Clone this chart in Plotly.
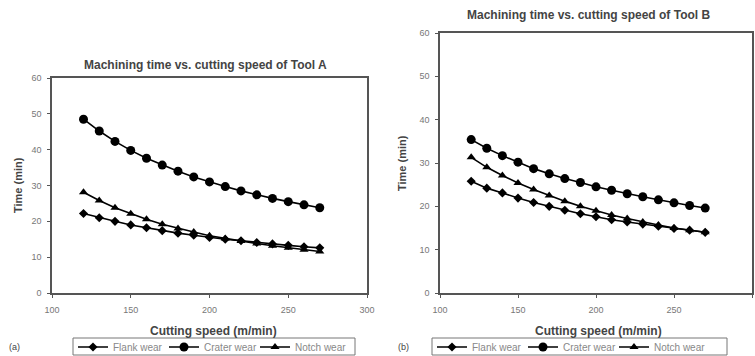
import plotly.graph_objects as go

speed = [120, 130, 140, 150, 160, 170, 180, 190, 200, 210, 220, 230, 240, 250, 260, 270]

a_flank = [22.2, 21.0, 20.0, 19.0, 18.2, 17.4, 16.7, 16.1, 15.5, 15.0, 14.6, 14.1, 13.7, 13.3, 12.9, 12.6]
a_crater = [48.5, 45.2, 42.3, 39.8, 37.6, 35.7, 34.0, 32.4, 31.0, 29.7, 28.5, 27.4, 26.4, 25.5, 24.6, 23.8]
a_notch = [28.1, 25.8, 23.8, 22.1, 20.6, 19.2, 18.0, 17.0, 16.0, 15.2, 14.5, 13.8, 13.2, 12.6, 12.1, 11.6]

b_flank = [25.8, 24.2, 23.1, 21.9, 20.9, 20.0, 19.1, 18.3, 17.6, 16.9, 16.4, 15.9, 15.4, 14.9, 14.5, 14.0]
b_crater = [35.4, 33.4, 31.7, 30.2, 28.7, 27.5, 26.4, 25.5, 24.5, 23.7, 22.9, 22.2, 21.5, 20.8, 20.2, 19.6]
b_notch = [31.3, 29.0, 27.1, 25.4, 23.9, 22.5, 21.2, 20.0, 19.0, 18.0, 17.2, 16.4, 15.7, 15.0, 14.5, 14.0]

x_ticks = [100, 150, 200, 250, 300]
names = ["Flank wear", "Crater wear", "Notch wear"]
symbols = ["diamond", "circle", "triangle-up"]
sizes = [7, 9, 8]

W, H = 755, 356
FONT = "Liberation Sans, Arial, sans-serif"

fig = go.Figure()

for i, (ys, nm) in enumerate(zip([a_flank, a_crater, a_notch], names)):
    fig.add_trace(go.Scatter(
        x=speed, y=ys, name=nm, mode="lines+markers",
        line=dict(color="black", width=1.6),
        marker=dict(symbol=symbols[i], size=sizes[i], color="black"),
        xaxis="x", yaxis="y", legend="legend"))

for i, (ys, nm) in enumerate(zip([b_flank, b_crater, b_notch], names)):
    fig.add_trace(go.Scatter(
        x=speed, y=ys, name=nm, mode="lines+markers",
        line=dict(color="black", width=1.6),
        marker=dict(symbol=symbols[i], size=sizes[i], color="black"),
        xaxis="x2", yaxis="y2", legend="legend2"))

def px_x(p):
    return p / W

def px_y(p):
    return 1 - p / H

axis_common = dict(
    showgrid=False, zeroline=False, showline=True, linecolor="#555", linewidth=1.5,
    mirror=True, ticks="outside", ticklen=3, tickcolor="#555", automargin=False,
    ticklabelstandoff=4,
    tickfont=dict(family=FONT, size=9, color="#777"),
)

leg_common = dict(orientation="h", xanchor="left", yanchor="middle",
                  xref="container", yref="container",
                  borderwidth=0, bgcolor="rgba(0,0,0,0)",
                  font=dict(family=FONT, size=10, color="#888"),
                  itemwidth=30, tracegroupgap=0,
                  entrywidth=46, entrywidthmode="pixels")

fig.update_layout(
    width=W, height=H,
    margin=dict(l=0, r=0, t=0, b=0, autoexpand=False),
    paper_bgcolor="white", plot_bgcolor="white",
    showlegend=True,
    xaxis=dict(domain=[px_x(52), px_x(367)], range=[100, 300], tickvals=x_ticks,
               anchor="y", **axis_common),
    yaxis=dict(domain=[px_y(293), px_y(78)], range=[0, 60], dtick=10, anchor="x", **axis_common),
    xaxis2=dict(domain=[px_x(440), px_x(752)], range=[100, 300], tickvals=x_ticks,
                anchor="y2", **axis_common),
    yaxis2=dict(domain=[px_y(293), px_y(33)], range=[0, 60], dtick=10, anchor="x2", **axis_common),
    legend=dict(x=px_x(73), y=px_y(347), **leg_common),
    legend2=dict(x=px_x(432), y=px_y(347), **leg_common),
)

# legend frames
for x0, x1 in [(73, 355), (432, 727)]:
    fig.add_shape(type="rect", xref="paper", yref="paper",
                  x0=px_x(x0), x1=px_x(x1), y0=px_y(355), y1=px_y(338),
                  line=dict(color="#777", width=1), fillcolor="rgba(0,0,0,0)", layer="below")

ann = [
    dict(text="<b>Machining time vs. cutting speed of Tool A</b>", x=px_x(205), y=px_y(65), size=12),
    dict(text="<b>Machining time vs. cutting speed of Tool B</b>", x=px_x(588), y=px_y(15), size=12),
    dict(text="<b>Cutting speed (m/min)</b>", x=px_x(213), y=px_y(331), size=12),
    dict(text="<b>Cutting speed (m/min)</b>", x=px_x(598), y=px_y(331), size=12),
    dict(text="(a)", x=px_x(14), y=px_y(347), size=9),
    dict(text="(b)", x=px_x(403), y=px_y(347), size=9),
]
for a in ann:
    fig.add_annotation(text=a["text"], x=a["x"], y=a["y"], xref="paper", yref="paper",
                       showarrow=False, xanchor="center", yanchor="middle",
                       font=dict(family=FONT, size=a["size"], color="#444"))

for xp, yp in [(18, 185), (402, 163)]:
    fig.add_annotation(text="<b>Time (min)</b>", x=px_x(xp), y=px_y(yp), xref="paper", yref="paper",
                       showarrow=False, textangle=-90, xanchor="center", yanchor="middle",
                       font=dict(family=FONT, size=11, color="#444"))

fig.write_html("out.html", config={"displayModeBar": False},
               post_script="document.body.style.margin='0px';")
